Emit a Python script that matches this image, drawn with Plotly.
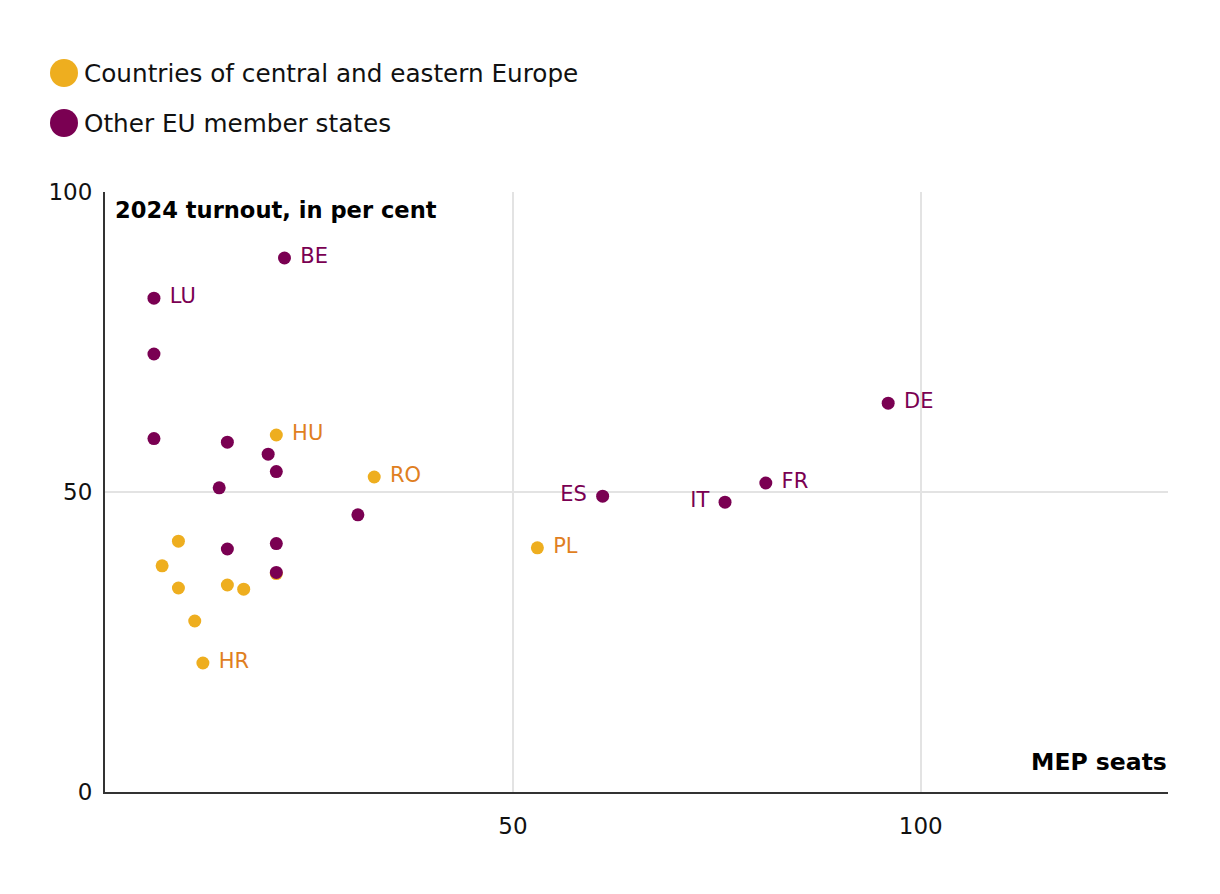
import plotly.graph_objects as go

# Countries of central and eastern Europe
cee_codes = ["HU", "RO", "PL", "HR", "SI", "EE", "LV", "SK", "BG", "LT", "CZ"]
cee_seats = [21, 33, 53, 12, 9, 7, 9, 15, 17, 11, 21]
cee_turnout = [59.5, 52.5, 40.7, 21.5, 41.8, 37.7, 34.0, 34.5, 33.8, 28.5, 36.4]
cee_labels = ["HU", "RO", "PL", "HR", "", "", "", "", "", "", ""]
cee_pos = ["middle right"] * 11

# Other EU member states
oth_codes = ["BE", "LU", "MT", "CY", "DK", "AT", "SE", "IE", "NL", "FI", "GR", "PT", "ES", "IT", "FR", "DE"]
oth_seats = [22, 6, 6, 6, 15, 20, 21, 14, 31, 15, 21, 21, 61, 76, 81, 96]
oth_turnout = [89.0, 82.3, 73.0, 58.9, 58.3, 56.3, 53.4, 50.7, 46.2, 40.5, 41.4, 36.6, 49.3, 48.3, 51.5, 64.8]
oth_labels = ["BE", "LU", "", "", "", "", "", "", "", "", "", "", "ES", "IT", "FR", "DE"]
oth_pos = ["middle right"] * 12 + ["middle left", "middle left", "middle right", "middle right"]

legend_names = ["Countries of central and eastern Europe", "Other EU member states"]

ORANGE = "#eeae1f"
ORANGE_TXT = "#e07f1f"
PURPLE = "#7a0052"
FONT = "DejaVu Sans"
NB = "\u00a0"


def pad(labels, positions):
    out = []
    for t, p in zip(labels, positions):
        if not t:
            out.append("")
        elif p.endswith("left"):
            out.append(t + NB)
        else:
            out.append(NB + t)
    return out


fig = go.Figure()
fig.add_trace(go.Scatter(
    x=cee_seats, y=cee_turnout, mode="markers+text", text=pad(cee_labels, cee_pos),
    textposition=cee_pos, customdata=cee_codes, name=legend_names[0],
    marker=dict(size=13, color=ORANGE, line=dict(width=0)),
    textfont=dict(color=ORANGE_TXT, size=21, family=FONT),
    cliponaxis=False, showlegend=False))
fig.add_trace(go.Scatter(
    x=oth_seats, y=oth_turnout, mode="markers+text", text=pad(oth_labels, oth_pos),
    textposition=oth_pos, customdata=oth_codes, name=legend_names[1],
    marker=dict(size=13, color=PURPLE, line=dict(width=0)),
    textfont=dict(color=PURPLE, size=21, family=FONT),
    cliponaxis=False, showlegend=False))

# page body offset of 8px is compensated in margins
OFF = 8
L, R, T, B = 105 - OFF, 52 + OFF, 192 - OFF, 102 + OFF
W, H = 1220, 894
pw, ph = W - L - R, H - T - B


def px_x(p):
    return (p - OFF - L) / pw


def px_y(p):
    return (H - B - (p - OFF)) / ph


shapes = []
annotations = []
for i, (name, col) in enumerate(zip(legend_names, [ORANGE, PURPLE])):
    cy = 73 + 50 * i
    shapes.append(dict(type="circle", xref="paper", yref="paper",
                       x0=px_x(50), x1=px_x(78), y0=px_y(cy + 14), y1=px_y(cy - 14),
                       fillcolor=col, line=dict(width=0)))
    annotations.append(dict(xref="paper", yref="paper", x=px_x(82), y=px_y(cy),
                            xanchor="left", yanchor="middle", text=name, showarrow=False,
                            font=dict(size=24.7, color="#111", family=FONT)))

annotations.append(dict(xref="paper", yref="paper", x=px_x(113), y=px_y(210),
                        xanchor="left", yanchor="middle", text="<b>2024 turnout, in per cent</b>",
                        showarrow=False, font=dict(size=22.6, color="#000", family=FONT)))
annotations.append(dict(xref="paper", yref="paper", x=px_x(1169), y=px_y(762),
                        xanchor="right", yanchor="middle", text="<b>MEP seats</b>",
                        showarrow=False, font=dict(size=23.5, color="#000", family=FONT)))

fig.update_layout(
    width=W, height=H, margin=dict(l=L, r=R, t=T, b=B),
    paper_bgcolor="white", plot_bgcolor="white",
    font=dict(family=FONT, size=23, color="#111"),
    shapes=shapes, annotations=annotations,
    xaxis=dict(range=[0, 130.3], tickvals=[50, 100], showgrid=True, gridcolor="#e3e3e3",
               gridwidth=1.5, zeroline=False, showline=True, linecolor="#333", linewidth=2,
               ticks="", ticklabelstandoff=12, tickfont=dict(size=23)),
    yaxis=dict(range=[0, 100], tickvals=[0, 50, 100], showgrid=True, gridcolor="#e3e3e3",
               gridwidth=1.5, zeroline=False, showline=True, linecolor="#333", linewidth=2,
               ticks="", ticklabelstandoff=6, tickfont=dict(size=23)),
)

fig.write_html("out.html")
